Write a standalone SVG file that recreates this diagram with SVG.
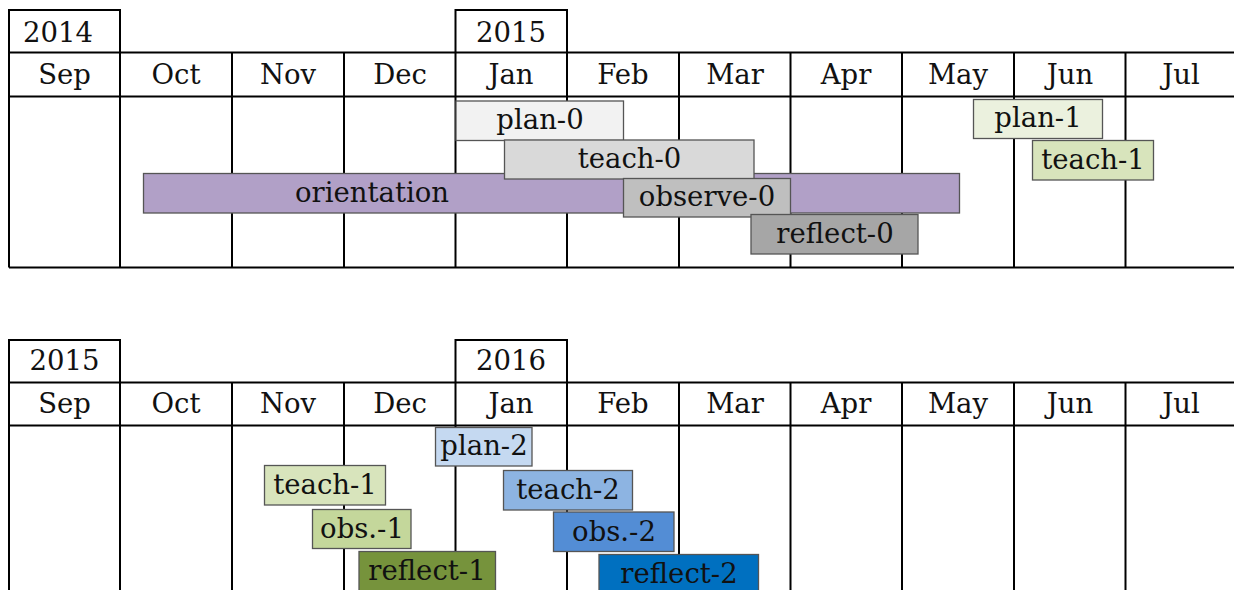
<svg xmlns="http://www.w3.org/2000/svg" width="1234" height="590" viewBox="0 0 1234 590">
<style>
.g{stroke:#000;stroke-width:2;fill:none}
.t{font-family:"DejaVu Serif",serif;font-size:27.5px;fill:#111;text-anchor:middle}
.b{stroke:#555;stroke-width:1.3}
</style>
<rect width="1234" height="590" fill="#fff"/>
<g id="table-top">
<path class="g" d="M9 52.5V10H120V52.5M455.5 52.5V10H567V52.5M9 52.5H1234M9 96.5H1234M9 267.5H1234M9 52.5V267.5M120 52.5V267.5M232 52.5V267.5M344 52.5V267.5M455.5 52.5V267.5M567 52.5V267.5M679 52.5V267.5M790.5 52.5V267.5M902 52.5V267.5M1014 52.5V267.5M1125.5 52.5V267.5"/>
<text class="t" x="58" y="42">2014</text>
<text class="t" x="511" y="42">2015</text>
<text class="t" x="64.5" y="84">Sep</text>
<text class="t" x="176" y="84">Oct</text>
<text class="t" x="288" y="84">Nov</text>
<text class="t" x="400" y="84">Dec</text>
<text class="t" x="511" y="84">Jan</text>
<text class="t" x="623" y="84">Feb</text>
<text class="t" x="735" y="84">Mar</text>
<text class="t" x="846" y="84">Apr</text>
<text class="t" x="958" y="84">May</text>
<text class="t" x="1070" y="84">Jun</text>
<text class="t" x="1181" y="84">Jul</text>
</g>
<g id="table-bottom">
<path class="g" d="M9 382.5V340H120V382.5M455.5 382.5V340H567V382.5M9 382.5H1234M9 425.5H1234M9 382.5V590M120 382.5V590M232 382.5V590M344 382.5V590M455.5 382.5V590M567 382.5V590M679 382.5V590M790.5 382.5V590M902 382.5V590M1014 382.5V590M1125.5 382.5V590"/>
<text class="t" x="64.5" y="370">2015</text>
<text class="t" x="511" y="370">2016</text>
<text class="t" x="64.5" y="413">Sep</text>
<text class="t" x="176" y="413">Oct</text>
<text class="t" x="288" y="413">Nov</text>
<text class="t" x="400" y="413">Dec</text>
<text class="t" x="511" y="413">Jan</text>
<text class="t" x="623" y="413">Feb</text>
<text class="t" x="735" y="413">Mar</text>
<text class="t" x="846" y="413">Apr</text>
<text class="t" x="958" y="413">May</text>
<text class="t" x="1070" y="413">Jun</text>
<text class="t" x="1181" y="413">Jul</text>
</g>
<g id="orientation"><rect class="b" x="143.5" y="173.5" width="816" height="39.5" fill="#b1a0c7"/><text class="t" x="372" y="202">orientation</text></g>
<g id="plan-0"><rect class="b" x="456" y="101" width="167.5" height="39.5" fill="#f2f2f2"/><text class="t" x="540" y="129">plan-0</text></g>
<g id="teach-0"><rect class="b" x="504.5" y="140" width="249.5" height="39" fill="#d9d9d9"/><text class="t" x="629.5" y="168">teach-0</text></g>
<g id="observe-0"><rect class="b" x="623.5" y="178.5" width="167" height="38.5" fill="#bfbfbf"/><text class="t" x="707" y="206">observe-0</text></g>
<g id="reflect-0"><rect class="b" x="751" y="214.5" width="167" height="39.5" fill="#a6a6a6"/><text class="t" x="835" y="243">reflect-0</text></g>
<g id="plan-1"><rect class="b" x="973.5" y="99.5" width="129" height="39" fill="#ebf1de"/><text class="t" x="1038" y="127">plan-1</text></g>
<g id="teach-1-top"><rect class="b" x="1032.5" y="140.5" width="121" height="39.5" fill="#d8e4bc"/><text class="t" x="1093" y="168.5">teach-1</text></g>
<g id="plan-2"><rect class="b" x="435.5" y="427.5" width="96.5" height="38.5" fill="#c5d9f1"/><text class="t" x="484" y="455">plan-2</text></g>
<g id="teach-1"><rect class="b" x="264.5" y="465.5" width="121" height="39.5" fill="#d8e4bc"/><text class="t" x="325" y="494">teach-1</text></g>
<g id="teach-2"><rect class="b" x="503.5" y="470.5" width="129" height="39.5" fill="#8db4e2"/><text class="t" x="568" y="499">teach-2</text></g>
<g id="obs-1"><rect class="b" x="312.5" y="509.5" width="98.5" height="39" fill="#c4d79b"/><text class="t" x="362" y="537.5">obs.-1</text></g>
<g id="obs-2"><rect class="b" x="553.5" y="512" width="120.5" height="39.5" fill="#538dd5"/><text class="t" x="614" y="540.5">obs.-2</text></g>
<g id="reflect-1"><rect class="b" x="359" y="551.5" width="136.5" height="45" fill="#76933c"/><text class="t" x="427" y="580">reflect-1</text></g>
<g id="reflect-2"><rect class="b" x="599" y="554.5" width="159.5" height="42" fill="#0070c0"/><text class="t" x="679" y="583">reflect-2</text></g>
<g id="connectors"/>
</svg>
